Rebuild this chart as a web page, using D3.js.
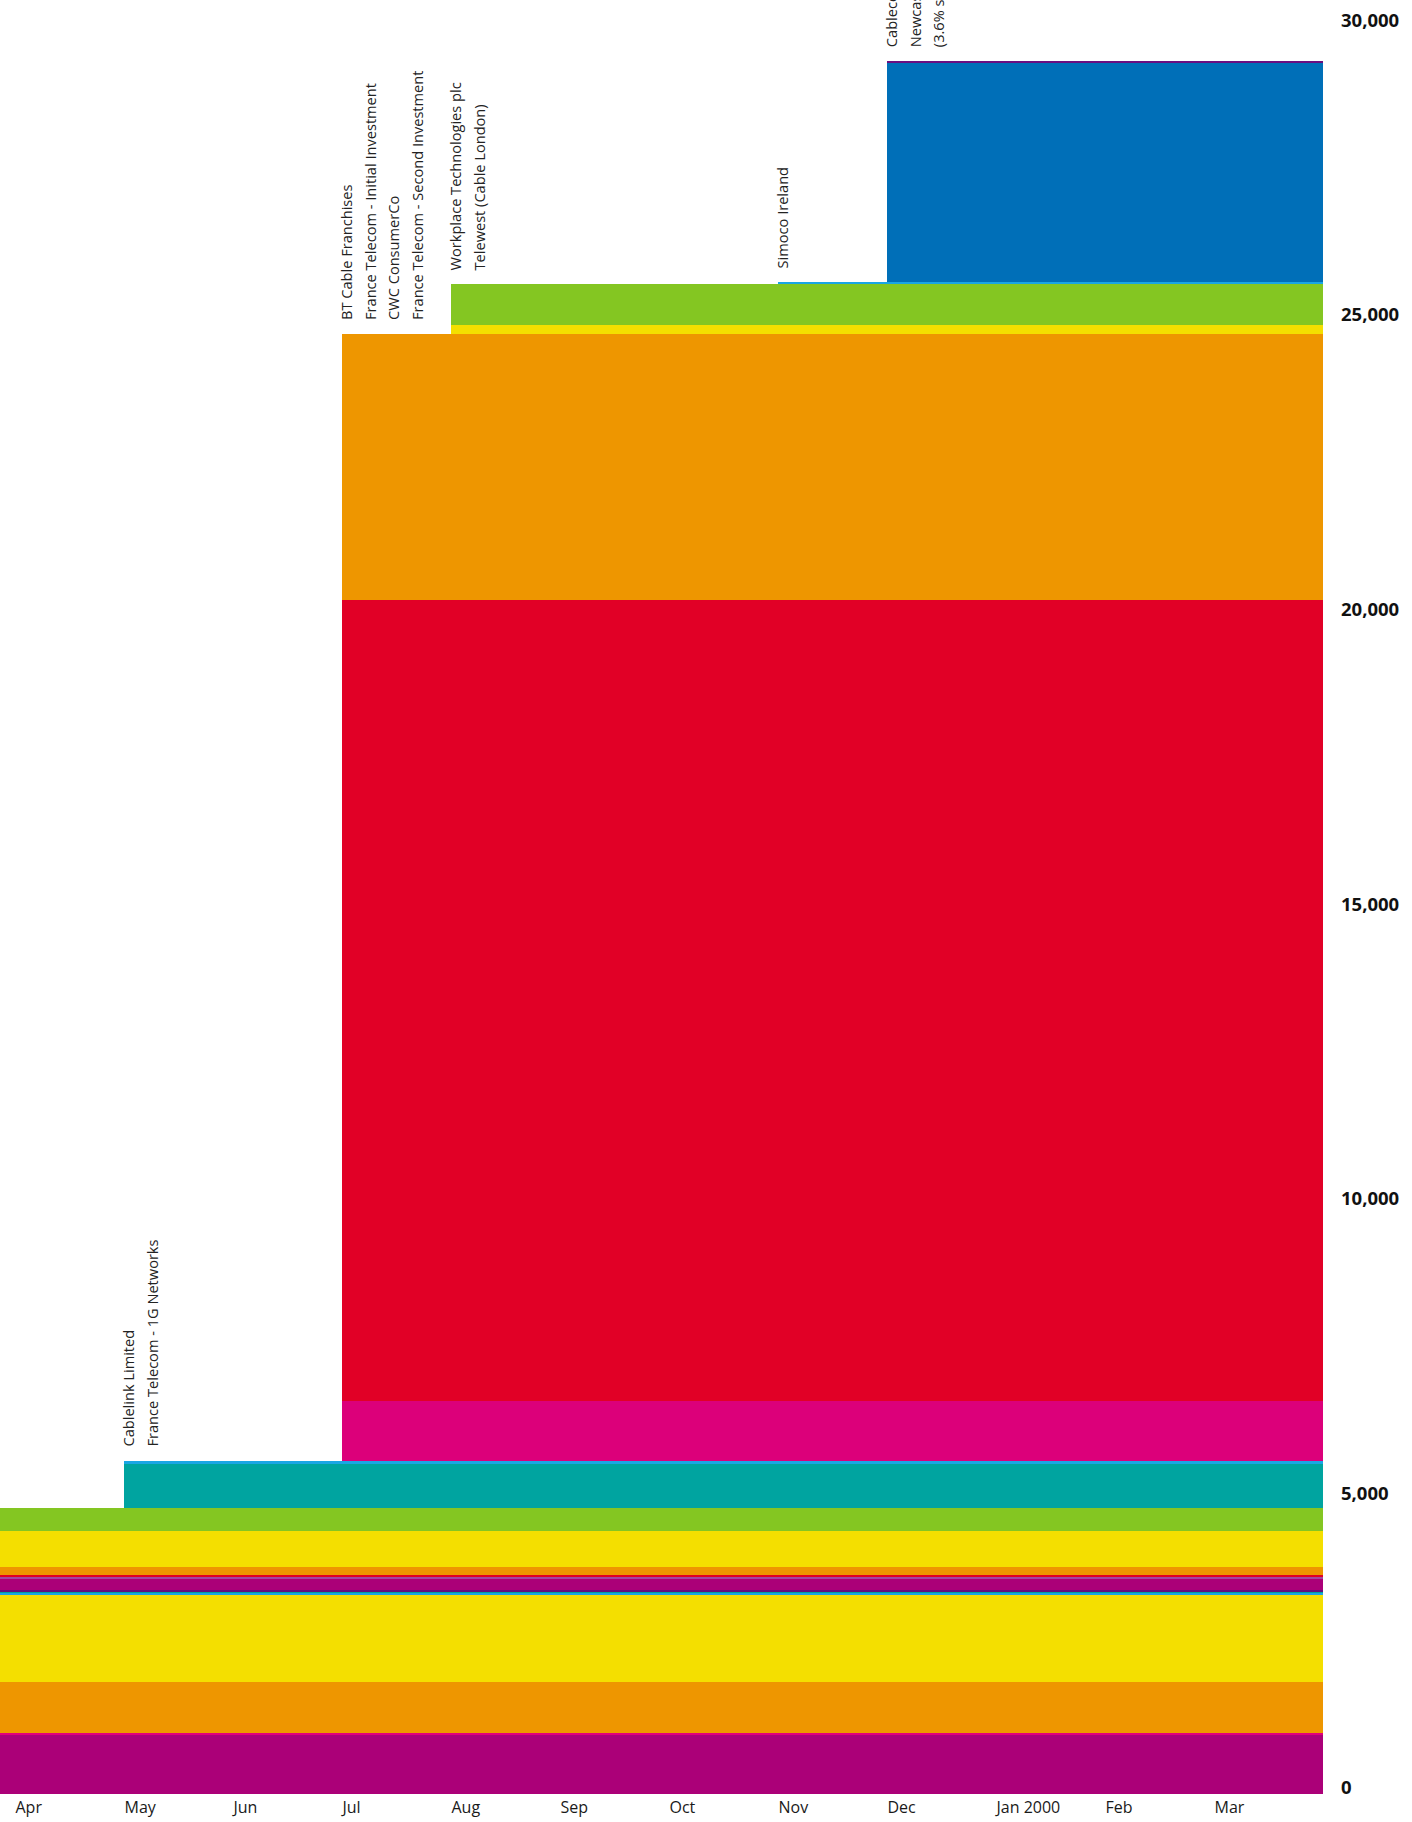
<!DOCTYPE html>
<html>
<head>
<meta charset="utf-8">
<script src="https://cdn.jsdelivr.net/npm/d3@7"></script>
<style>
  body { margin: 0; background: #fff; }
  svg { display: block; font-family: "Open Sans", "Noto Sans", sans-serif; }
</style>
</head>
<body>
<div id="chart-container"></div>
<script>
// Month columns (equal width each)
const months = ["Apr", "May", "Jun", "Jul", "Aug", "Sep", "Oct", "Nov", "Dec", "Jan 2000", "Feb", "Mar"];

// Stacked layers, bottom to top: month index they start at, value, colour
const layerStart = [0, 0, 0, 0, 0, 0, 0, 0, 0, 0, 0, 0, 0, 1, 1, 3, 3, 3, 4, 4, 7, 8, 8];
const layerValue = [1000, 35, 870, 1480, 25, 25, 35, 185, 20, 35, 140, 610, 395,
                    740, 65, 1010, 13590, 4520, 150, 690, 35, 3720, 35];
const layerColor = ["#ab0078", "#e2007a", "#ee9600", "#f4df00", "#1aa6e3", "#00a39d", "#65127c",
                    "#ab0078", "#a2479e", "#e10024", "#ee9600", "#f4df00", "#84c622",
                    "#00a4a0", "#1aa6e4", "#dc007a", "#e10026", "#ee9600", "#f4df00", "#84c622",
                    "#1aa6e3", "#006fb8", "#6a0f80"];

// Acquisition labels: month index and text lines
const labelMonth = [1, 3, 4, 7, 8];
const labelLines = [
  ["Cablelink Limited", "France Telecom - 1G Networks"],
  ["BT Cable Franchises", "France Telecom - Initial Investment", "CWC ConsumerCo", "France Telecom - Second Investment"],
  ["Workplace Technologies plc", "Telewest (Cable London)"],
  ["Simoco Ireland"],
  ["Cablecom GmbH", "Newcastle United plc", "(3.6% stake)"]
];

// Y tick values
const yTicks = [0, 5000, 10000, 15000, 20000, 25000, 30000];

const W = 1412, H = 1822;
const svg = d3.select("#chart-container")
  .append("svg")
  .attr("width", W)
  .attr("height", H);

const x = d3.scaleLinear().domain([0, 12]).range([15, 1323]);
const y = d3.scaleLinear().domain([0, 30000]).range([1794, 26.4]);

// build the table for d3.stack: one row per month plus closing row
const keys = layerValue.map((v, i) => "l" + i);
const table = d3.range(13).map(m => {
  const row = { m: m };
  keys.forEach((k, i) => {
    const mm = Math.min(m, 11);
    row[k] = mm >= layerStart[i] ? layerValue[i] : 0;
  });
  return row;
});

const series = d3.stack().keys(keys)(table);

const area = d3.area()
  .curve(d3.curveStepAfter)
  .x(d => d.data.m === 0 ? 0 : x(d.data.m))
  .y0(d => y(d[0]))
  .y1(d => y(d[1]));

svg.append("g")
  .selectAll("path")
  .data(series)
  .enter()
  .append("path")
  .attr("d", s => area(s.filter(d => d.data.m >= layerStart[s.index] || d.data.m === 12)))
  .attr("fill", s => layerColor[s.index])
  .attr("shape-rendering", "crispEdges");

// x axis
const xAxis = svg.append("g")
  .attr("transform", "translate(0,1794)")
  .call(d3.axisBottom(x)
    .tickValues(d3.range(12))
    .tickFormat(i => months[i])
    .tickSize(0)
    .tickPadding(8));
xAxis.select(".domain").remove();
xAxis.selectAll("text")
  .attr("text-anchor", "start")
  .attr("font-size", 16)
  .attr("font-family", "'Open Sans', sans-serif")
  .attr("fill", "#1a1a1a");

// y axis on the right
const yAxis = svg.append("g")
  .attr("transform", "translate(1323,0)")
  .call(d3.axisRight(y)
    .tickValues(yTicks)
    .tickFormat(d3.format(","))
    .tickSize(0)
    .tickPadding(18));
yAxis.select(".domain").remove();
yAxis.selectAll("text")
  .attr("y", -6)
  .attr("font-size", 18.5)
  .attr("font-weight", "bold")
  .attr("font-family", "'Open Sans', sans-serif")
  .attr("fill", "#111");

// rotated acquisition labels above the step where they begin
const stackTop = m => d3.sum(layerValue.filter((v, i) => layerStart[i] <= m));
const labels = svg.append("g");
labelMonth.forEach((m, j) => {
  const top = y(stackTop(m));
  labelLines[j].forEach((t, k) => {
    const lx = x(m) + 10 + k * 23.5;
    const ly = top - 14;
    labels.append("text")
      .attr("transform", `translate(${lx},${ly}) rotate(-90)`)
      .attr("font-size", 14.6)
      .attr("fill", "#222")
      .text(t);
  });
});
</script>
</body>
</html>
